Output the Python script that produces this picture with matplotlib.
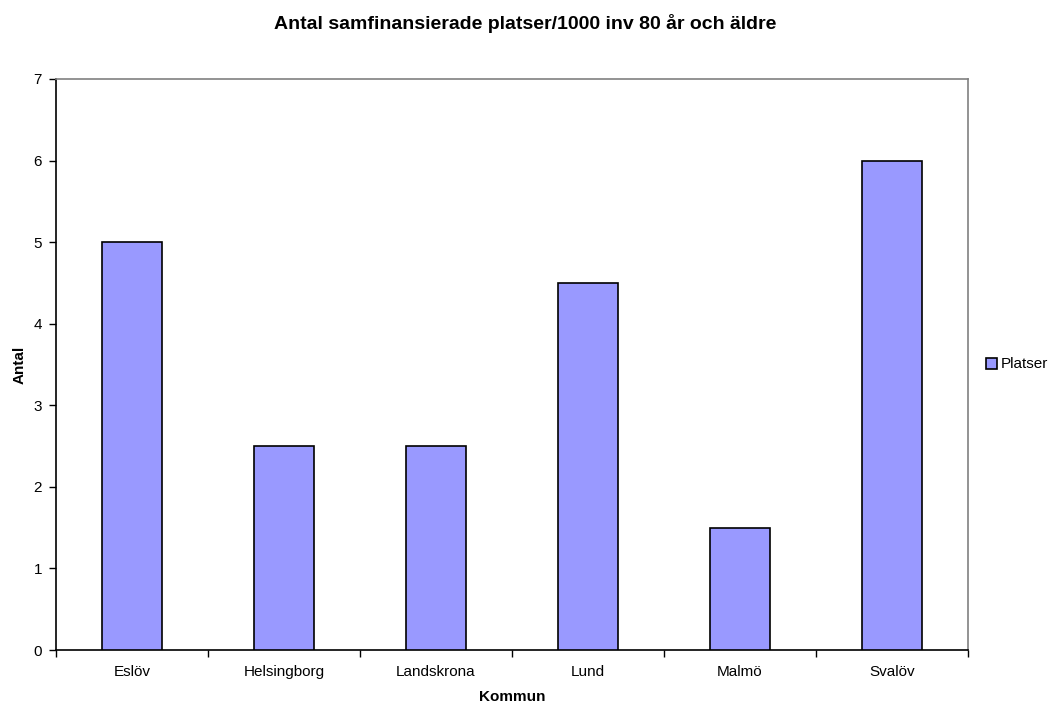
import matplotlib
matplotlib.use('Agg')
import matplotlib.pyplot as plt
import numpy as np

# Platser per kommun
kommuner = ['Eslöv', 'Helsingborg', 'Landskrona', 'Lund', 'Malmö', 'Svalöv']
platser = [5, 2.5, 2.5, 4.5, 1.5, 6]

plt.rcParams['font.family'] = ['Liberation Sans', 'DejaVu Sans']

fig = plt.figure(figsize=(10.5, 7.06), dpi=100)
ax = fig.add_axes([56 / 1050, 56 / 706, 912 / 1050, 571 / 706])

x = np.arange(len(kommuner))
ax.bar(x, platser, width=0.4, color='#9999FF', edgecolor='black', linewidth=1.2,
       label='Platser', zorder=3)

ax.set_xlim(-0.5, len(kommuner) - 0.5)
ax.set_ylim(0, 7)
ax.set_yticks(range(0, 8))
ax.set_xticks(x)
ax.set_xticklabels(kommuner)
# tick marks between categories
ax.set_xticks(np.arange(-0.5, len(kommuner)), minor=True)
ax.tick_params(axis='x', which='major', length=0, pad=11, labelsize=11)
ax.tick_params(axis='x', which='minor', length=5, width=1, direction='out')
ax.tick_params(axis='y', length=5, width=1, direction='out', pad=5, labelsize=11)

for side in ['top', 'right']:
    ax.spines[side].set_color('#808080')
    ax.spines[side].set_linewidth(1.2)
for side in ['left', 'bottom']:
    ax.spines[side].set_color('black')
    ax.spines[side].set_linewidth(1.2)

ax.set_xlabel('Kommun', fontweight='bold', fontsize=11, labelpad=8)
ax.set_ylabel('Antal', fontweight='bold', fontsize=11, labelpad=5)
fig.text(0.5, 0.967, 'Antal samfinansierade platser/1000 inv 80 år och äldre',
         ha='center', va='center', fontweight='bold', fontsize=14)

ax.legend(loc='center left', bbox_to_anchor=(1.013, 0.5), frameon=False,
          fontsize=11, handlelength=0.7, handleheight=0.7, handletextpad=0.25,
          borderaxespad=0)

fig.savefig('out.png', dpi=100)
